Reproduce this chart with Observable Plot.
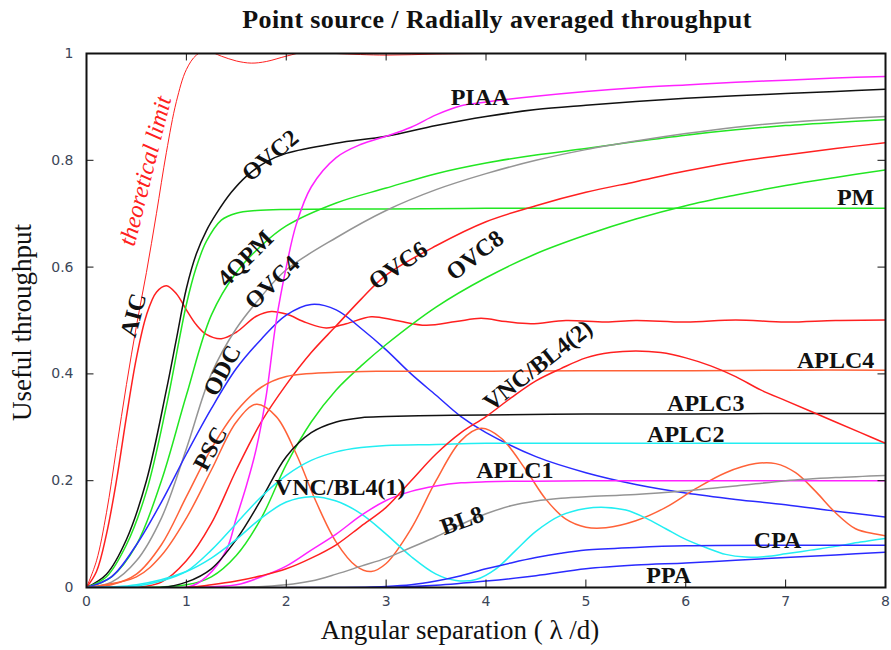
<!DOCTYPE html>
<html>
<head>
<meta charset="utf-8">
<script src="https://cdn.jsdelivr.net/npm/d3@7"></script>
<script src="https://cdn.jsdelivr.net/npm/@observablehq/plot@0.6"></script>
<style>
  body { margin: 0; background: #fff; }
  #title { width: 891px; height: 40px; line-height: 40px; box-sizing: border-box; padding-left: 103px; text-align: center;
    font-family: "Liberation Serif", serif; font-weight: bold; font-size: 26px; letter-spacing: 0.4px; color: #111; }
</style>
</head>
<body>
<div id="title"></div>
<div id="chart"></div>
<script>
const titleText = "Point source / Radially averaged throughput";
const xLabel = "Angular separation ( λ /d)";
const yLabel = "Useful throughput";
const xTicks = [0, 1, 2, 3, 4, 5, 6, 7, 8];
const yTicks = [0, 0.2, 0.4, 0.6, 0.8, 1];
document.getElementById("title").textContent = titleText;

// [x, y] pairs
const theoreticalLimit = [[0,0],[0.1,0.05],[0.2,0.14],[0.3,0.26],[0.4,0.38],[0.5,0.49],[0.6,0.59],[0.7,0.7],[0.8,0.815],[0.9,0.91],[1.0,0.97],[1.1,0.997],[1.2,1.005],[1.35,0.995],[1.5,0.986],[1.65,0.982],[1.8,0.985],[2.0,0.995],[2.2,1.003],[2.5,1.0],[3,0.997],[3.5,0.999],[4,1.0],[5,1.0],[6,1.0],[7,1.0],[8,1.0]];
const aic = [[0,0],[0.1,0.03],[0.2,0.1],[0.3,0.2],[0.4,0.32],[0.5,0.43],[0.6,0.51],[0.7,0.553],[0.8,0.565],[0.9,0.55],[1.0,0.52],[1.1,0.492],[1.2,0.474],[1.35,0.466],[1.5,0.478],[1.7,0.508],[1.85,0.517],[2.0,0.512],[2.2,0.496],[2.4,0.486],[2.6,0.494],[2.85,0.507],[3.1,0.5],[3.4,0.491],[3.7,0.498],[3.95,0.504],[4.2,0.498],[4.45,0.494],[4.8,0.5],[5.2,0.497],[5.5,0.5],[6,0.497],[6.5,0.501],[7,0.497],[7.5,0.5],[8,0.501]];
const ovc2 = [[0,0],[0.2,0.025],[0.4,0.09],[0.6,0.2],[0.8,0.37],[0.9,0.465],[1.0,0.56],[1.1,0.625],[1.2,0.668],[1.3,0.7],[1.45,0.74],[1.6,0.77],[1.8,0.797],[2.0,0.813],[2.5,0.832],[3,0.845],[3.5,0.865],[4,0.882],[4.5,0.895],[5,0.903],[5.5,0.91],[6,0.916],[6.5,0.921],[7,0.925],[7.5,0.929],[8,0.933]];
const pm = [[0,0],[0.2,0.02],[0.4,0.08],[0.6,0.18],[0.8,0.34],[1.0,0.53],[1.1,0.6],[1.2,0.648],[1.35,0.688],[1.5,0.701],[1.7,0.706],[2,0.708],[3,0.709],[4,0.71],[5,0.71],[6,0.71],[7,0.71],[8,0.71]];
const qpm4 = [[0,0],[0.25,0.02],[0.5,0.08],[0.75,0.2],[1.0,0.36],[1.25,0.51],[1.5,0.59],[1.75,0.64],[2.0,0.677],[2.5,0.72],[3.0,0.748],[3.5,0.775],[4.0,0.795],[4.5,0.81],[5.0,0.822],[5.5,0.835],[6.0,0.847],[6.5,0.857],[7,0.865],[7.5,0.871],[8,0.876]];
const ovc4 = [[0,0],[0.25,0.01],[0.5,0.05],[0.75,0.13],[1.0,0.26],[1.25,0.4],[1.5,0.485],[1.75,0.545],[2.0,0.595],[2.5,0.655],[3,0.706],[3.5,0.745],[4,0.775],[4.5,0.8],[5,0.82],[5.5,0.836],[6,0.85],[6.5,0.862],[7,0.871],[7.5,0.877],[8,0.882]];
const odc = [[0,0],[0.25,0.02],[0.5,0.08],[0.75,0.16],[1.0,0.25],[1.25,0.335],[1.5,0.41],[1.75,0.465],[2.0,0.51],[2.25,0.53],[2.5,0.52],[2.75,0.485],[3.0,0.445],[3.25,0.4],[3.5,0.36],[3.75,0.32],[4.0,0.29],[4.5,0.245],[5.0,0.215],[5.5,0.193],[6,0.177],[6.5,0.165],[7,0.155],[7.5,0.143],[8,0.132]];
const ovc6 = [[0,0],[0.5,0],[0.75,0.01],[1.0,0.05],[1.25,0.12],[1.5,0.22],[1.75,0.31],[2.0,0.38],[2.25,0.44],[2.5,0.49],[2.75,0.54],[3.0,0.585],[3.5,0.64],[4.0,0.685],[4.5,0.715],[5.0,0.74],[5.5,0.76],[6,0.78],[6.5,0.797],[7,0.81],[7.5,0.822],[8,0.833]];
const ovc8 = [[0,0],[1.0,0.005],[1.25,0.02],[1.5,0.06],[1.75,0.13],[2.0,0.23],[2.25,0.31],[2.5,0.37],[2.75,0.415],[3.0,0.455],[3.5,0.525],[4.0,0.58],[4.5,0.625],[5.0,0.66],[5.5,0.69],[6.0,0.715],[6.5,0.735],[7.0,0.753],[7.5,0.768],[8.0,0.782]];
const piaa = [[0,0],[1.0,0],[1.2,0.02],[1.4,0.07],[1.5,0.13],[1.6,0.19],[1.7,0.26],[1.8,0.36],[1.9,0.5],[2.0,0.6],[2.1,0.68],[2.25,0.75],[2.5,0.805],[2.75,0.83],[3.0,0.845],[3.25,0.862],[3.5,0.885],[3.75,0.902],[4.0,0.909],[4.5,0.92],[5.0,0.929],[5.5,0.936],[6.0,0.941],[6.5,0.946],[7.0,0.95],[7.5,0.954],[8.0,0.957]];
const aplc4 = [[0,0],[0.25,0.005],[0.5,0.025],[0.75,0.08],[1.0,0.17],[1.25,0.26],[1.5,0.33],[1.75,0.375],[2.0,0.395],[2.5,0.403],[3,0.405],[4,0.405],[5,0.406],[6,0.406],[7,0.407],[8,0.407]];
const psc = [[0,0],[0.5,0.02],[0.75,0.06],[1.0,0.13],[1.25,0.22],[1.5,0.31],[1.7,0.343],[1.9,0.32],[2.1,0.25],[2.3,0.16],[2.5,0.085],[2.7,0.04],[2.85,0.03],[3.0,0.045],[3.25,0.11],[3.5,0.2],[3.75,0.275],[3.95,0.298],[4.15,0.28],[4.4,0.22],[4.6,0.165],[4.8,0.128],[5.0,0.113],[5.2,0.112],[5.5,0.125],[5.8,0.15],[6.1,0.185],[6.4,0.215],[6.7,0.232],[6.9,0.232],[7.1,0.215],[7.3,0.18],[7.5,0.14],[7.7,0.11],[7.9,0.1],[8,0.097]];
const aplc3 = [[0,0],[0.75,0],[1.0,0.01],[1.25,0.035],[1.5,0.09],[1.75,0.165],[2.0,0.245],[2.25,0.29],[2.5,0.31],[2.75,0.318],[3.0,0.32],[3.5,0.322],[4,0.323],[5,0.325],[6,0.325],[7,0.326],[8,0.326]];
const aplc2 = [[0,0],[0.5,0.003],[0.75,0.012],[1.0,0.03],[1.25,0.07],[1.5,0.12],[1.75,0.17],[2.0,0.21],[2.25,0.238],[2.5,0.254],[2.75,0.262],[3.0,0.266],[3.5,0.268],[4,0.27],[5,0.27],[6,0.27],[7,0.27],[8,0.27]];
const vncBl4One = [[0,0],[0.5,0.005],[1.0,0.03],[1.25,0.055],[1.5,0.09],[1.75,0.13],[2.0,0.16],[2.25,0.17],[2.5,0.162],[2.75,0.138],[3.0,0.1],[3.25,0.058],[3.5,0.025],[3.7,0.013],[3.9,0.015],[4.1,0.035],[4.3,0.07],[4.5,0.105],[4.75,0.135],[5.0,0.148],[5.2,0.15],[5.4,0.145],[5.6,0.13],[5.8,0.11],[6.0,0.09],[6.2,0.075],[6.4,0.062],[6.6,0.057],[6.8,0.058],[7.0,0.063],[7.25,0.07],[7.5,0.077],[7.75,0.085],[8.0,0.092]];
const aplc1 = [[0,0],[1.0,0],[1.5,0.005],[1.75,0.02],[2.0,0.04],[2.25,0.07],[2.5,0.1],[2.75,0.135],[3.0,0.163],[3.25,0.18],[3.5,0.19],[3.75,0.196],[4.0,0.198],[5,0.2],[6,0.2],[7,0.2],[8,0.2]];
const vncBl4Two = [[0,0],[1.0,0],[1.25,0.005],[1.5,0.012],[1.75,0.022],[2.0,0.035],[2.25,0.055],[2.5,0.08],[2.75,0.115],[3.0,0.15],[3.25,0.2],[3.5,0.25],[3.75,0.29],[4.0,0.32],[4.25,0.355],[4.5,0.387],[4.75,0.41],[5.0,0.43],[5.25,0.44],[5.5,0.443],[5.75,0.44],[6.0,0.43],[6.25,0.415],[6.5,0.395],[6.75,0.37],[7.0,0.35],[7.25,0.33],[7.5,0.31],[7.75,0.29],[8.0,0.27]];
const bl8 = [[0,0],[1.5,0],[2.0,0.005],[2.25,0.012],[2.5,0.025],[2.75,0.04],[3.0,0.055],[3.25,0.075],[3.5,0.095],[3.75,0.118],[4.0,0.138],[4.25,0.153],[4.5,0.162],[4.75,0.167],[5.0,0.17],[5.5,0.174],[6.0,0.181],[6.5,0.19],[7.0,0.2],[7.5,0.206],[8.0,0.21]];
const cpa = [[0,0],[2.5,0],[3.0,0.002],[3.25,0.005],[3.5,0.012],[3.75,0.022],[4.0,0.035],[4.25,0.046],[4.5,0.056],[4.75,0.064],[5.0,0.07],[5.5,0.075],[6.0,0.078],[7.0,0.079],[8.0,0.079]];
const ppa = [[0,0],[3.0,0],[3.5,0.004],[4.0,0.012],[4.5,0.022],[5.0,0.035],[5.5,0.042],[6.0,0.046],[6.5,0.051],[7.0,0.056],[7.5,0.061],[8.0,0.066]];

// curve labels: text, x, y, angle
const labelNames = ["AIC","OVC2","4QPM","OVC4","OVC6","OVC8","PIAA","PM","ODC","PSC","VNC/BL4(2)","APLC4","APLC3","APLC2","APLC1","VNC/BL4(1)","BL8","CPA","PPA"];
const labelX = [0.47,1.84,1.59,1.86,3.12,3.89,3.94,7.7,1.36,1.24,4.52,7.5,6.2,6.0,4.29,2.54,3.76,6.92,5.83];
const labelY = [0.51,0.809,0.616,0.571,0.603,0.622,0.918,0.73,0.406,0.26,0.416,0.425,0.345,0.287,0.219,0.187,0.125,0.088,0.022];
const labelAngle = [-75,-40,-45,-44,-35,-38,0,0,-62,-62,-38,0,0,0,0,0,-20,0,0];

const RED = "#ff2020", GREEN = "#22e622", BLACK = "#111", GRAY = "#959595", BLUE = "#2a2aff", MAGENTA = "#ff22ff", CYAN = "#22eef2", ORANGE = "#ff6238";
const series = [
  [aic, RED], [ovc2, BLACK], [pm, GREEN], [qpm4, GREEN], [ovc4, GRAY], [odc, BLUE], [ovc6, RED], [ovc8, GREEN],
  [piaa, MAGENTA], [aplc4, ORANGE], [psc, ORANGE], [aplc3, BLACK], [aplc2, CYAN], [vncBl4One, CYAN],
  [aplc1, MAGENTA], [vncBl4Two, RED], [bl8, GRAY], [cpa, BLUE], [ppa, BLUE]
];
const labels = labelNames.map((t, i) => ({t, x: labelX[i], y: labelY[i], a: labelAngle[i]}));

const lineMarks = series.map(([d, c]) => Plot.line(d, {x: d => d[0], y: d => d[1], stroke: c, strokeWidth: 1.5, curve: "catmull-rom", clip: true}));

const chart = Plot.plot({
  width: 891, height: 610,
  marginLeft: 86, marginRight: 6, marginTop: 13, marginBottom: 63,
  x: {domain: [0, 8]},
  y: {domain: [0, 1]},
  style: {background: "white", overflow: "visible"},
  marks: [
    Plot.line(theoreticalLimit, {x: d => d[0], y: d => d[1], stroke: RED, strokeWidth: 1, curve: "catmull-rom", clip: true}),
    ...lineMarks,
    Plot.ruleX(xTicks.slice(1, -1), {x: d => d, y1: 0, y2: 0.014, stroke: "#111", strokeWidth: 1}),
    Plot.ruleX(xTicks.slice(1, -1), {x: d => d, y1: 1, y2: 0.986, stroke: "#111", strokeWidth: 1}),
    Plot.ruleY(yTicks.slice(1, -1), {y: d => d, x1: 0, x2: 0.075, stroke: "#111", strokeWidth: 1}),
    Plot.ruleY(yTicks.slice(1, -1), {y: d => d, x1: 8, x2: 7.925, stroke: "#111", strokeWidth: 1}),
    Plot.frame({stroke: "#111", strokeWidth: 2}),
    Plot.axisX(xTicks, {tickSize: 0, tickPadding: 9, fontSize: 14, fill: "#3c4658", fontFamily: "DejaVu Sans", label: null}),
    Plot.axisY(yTicks, {tickSize: 0, tickPadding: 13, fontSize: 14, fill: "#3c4658", fontFamily: "DejaVu Sans", label: null, tickFormat: d => String(d)}),
    Plot.text([xLabel], {frameAnchor: "bottom", dy: 43, dx: -26, lineAnchor: "middle", textAnchor: "middle", text: d => d, fontSize: 27, fontFamily: "Liberation Serif", fill: "#111"}),
    Plot.text([yLabel], {frameAnchor: "left", dx: -64, dy: 2, rotate: -90, textAnchor: "middle", lineAnchor: "middle", text: d => d, fontSize: 27, fontFamily: "Liberation Serif", fill: "#111"}),
    Plot.text(["theoretical limit"], {x: () => 0.59, y: () => 0.78, rotate: -76, text: d => d, fontSize: 24, fontStyle: "italic", fontFamily: "Liberation Serif", fill: RED}),
    Plot.text(labels, {x: "x", y: "y", text: "t", rotate: "a", fontSize: 24, fontWeight: "bold", fontFamily: "Liberation Serif", fill: "#111"})
  ]
});
document.getElementById("chart").appendChild(chart);
</script>
</body>
</html>
